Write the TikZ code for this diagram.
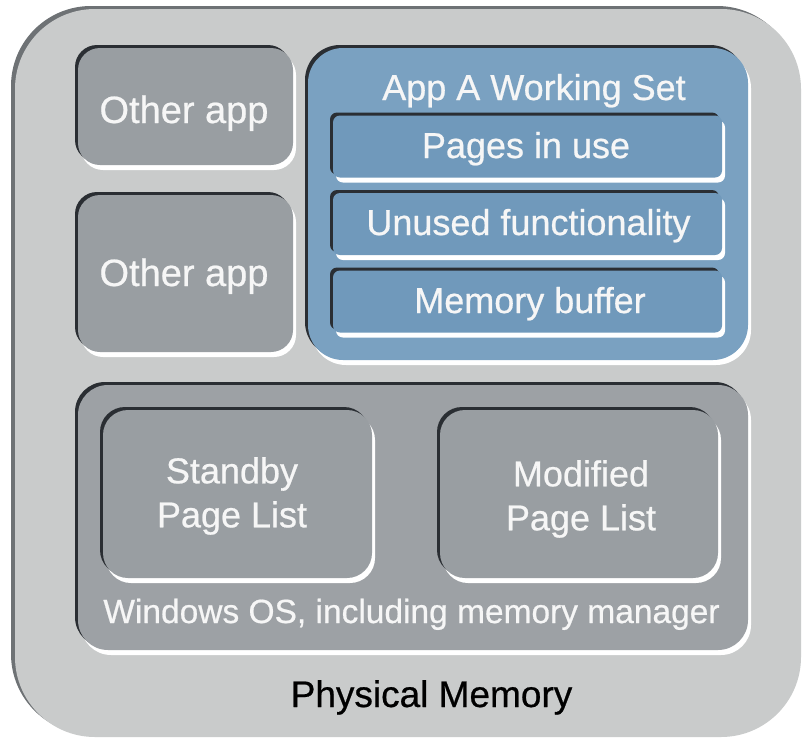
\documentclass[tikz,border=0pt]{standalone}
\usepackage{fontspec}
\setmainfont{Liberation Sans}
\newfontface\medfont{Liberation Sans}[FakeBold=0.6]
\definecolor{outerfill}{HTML}{C9CBCB}
\definecolor{outershadow}{HTML}{6E7275}
\definecolor{grayfill}{HTML}{999EA2}
\definecolor{osfill}{HTML}{9DA1A5}
\definecolor{bluefill}{HTML}{7AA1C1}
\definecolor{innerblue}{HTML}{7099BB}
\definecolor{shadowdark}{HTML}{2A2E33}
\definecolor{txtwhite}{HTML}{F6F6F6}
\begin{document}
\begin{tikzpicture}[x=1pt,y=-1pt,
  inset/.style={draw=none, inner sep=0pt,
    preaction={fill=white, transform canvas={shift={(3pt,-5pt)}}},
    preaction={fill=shadowdark, transform canvas={shift={(-3pt,3pt)}}}},
  box/.style={inset, fill=grayfill, rounded corners=22pt},
  bluebar/.style={inset, fill=innerblue, rounded corners=7pt, minimum width=389pt, minimum height=62pt},
  lbl/.style={text=txtwhite, inner sep=0pt, anchor=base, font=\medfont\fontsize{36}{44}\selectfont},
  lbl2/.style={text=txtwhite, inner sep=0pt, align=center, font=\medfont\fontsize{36}{44}\selectfont},
]
\useasboundingbox (0,0) rectangle (804,742);
\fill[white] (0,0) rectangle (804,742);
% outer
\node[draw=none, inner sep=0pt, fill=outerfill, rounded corners=80pt, minimum width=786pt, minimum height=728pt,
  preaction={fill=outershadow, transform canvas={shift={(-4pt,3pt)}}}] (outer) at (408,373) {};
% other apps
\node[box, minimum width=215pt, minimum height=117pt] (other1) at (185.5,106.5) {};
\node[lbl, font=\medfont\fontsize{38}{44}\selectfont] (other1t) at (184,123) {Other app};
\node[box, minimum width=215pt, minimum height=157pt] (other2) at (185.5,273.5) {};
\node[lbl, font=\medfont\fontsize{38}{44}\selectfont] (other2t) at (184,286) {Other app};
% App A
\node[inset, fill=bluefill, rounded corners=35pt, minimum width=440pt, minimum height=312pt] (appa) at (528,204) {};
\node[lbl] (appat) at (534,100) {App A Working Set};
\node[bluebar] (pages) at (527.5,146.5) {};
\node[lbl] (pagest) at (526,158) {Pages in use};
\node[bluebar] (unused) at (527.5,224) {};
\node[lbl] (unusedt) at (528.5,235) {Unused functionality};
\node[bluebar] (membuf) at (527.5,301.5) {};
\node[lbl] (membuft) at (530,313) {Memory buffer};
% Windows OS
\node[inset, fill=osfill, rounded corners=30pt, minimum width=670pt, minimum height=265pt] (winos) at (413,517.5) {};
\node[box, minimum width=269pt, minimum height=168pt, rounded corners=25pt] (standby) at (237.5,494) {};
\node[lbl2] (standbyt) at (232,496) {Standby\\Page List};
\node[box, minimum width=278pt, minimum height=168pt, rounded corners=25pt] (modified) at (579,494) {};
\node[lbl2] (modifiedt) at (581,499) {Modified\\Page List};
\node[lbl, font=\medfont\fontsize{33.5}{40}\selectfont] (winost) at (411.5,623) {Windows OS, including memory manager};
\node[lbl, text=black, font=\medfont\fontsize{37}{44}\selectfont] (physt) at (431.5,707) {Physical Memory};
\end{tikzpicture}
\end{document}
